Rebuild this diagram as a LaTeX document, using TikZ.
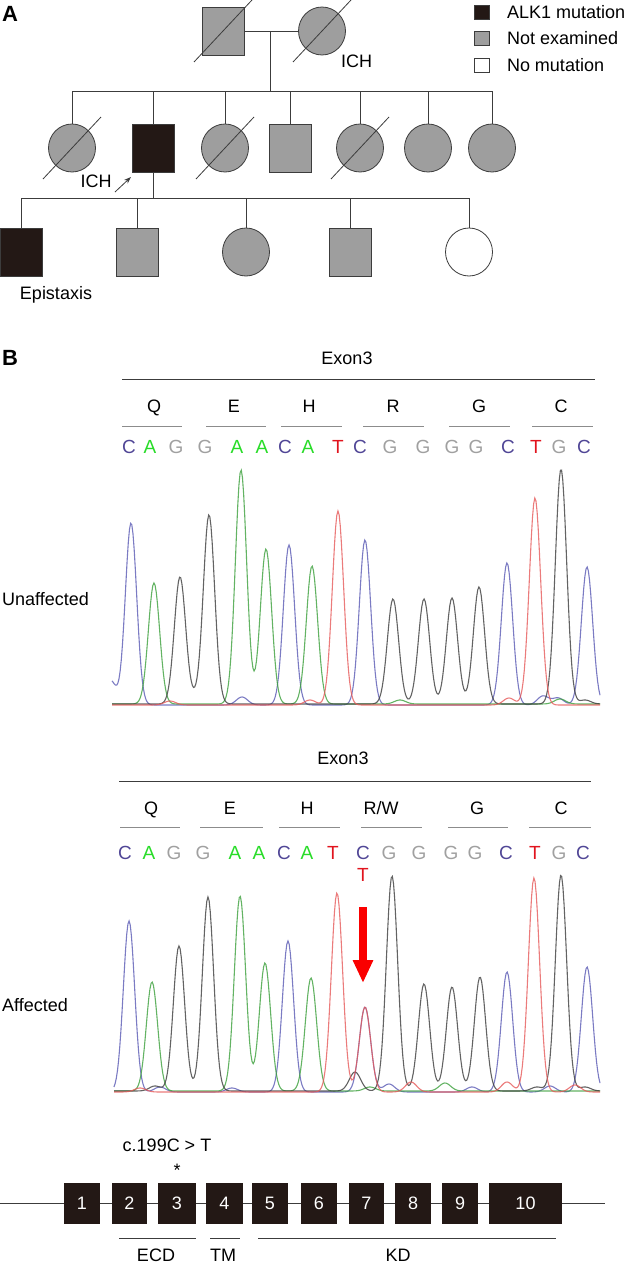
\documentclass[tikz,border=0pt]{standalone}
\usepackage{fontspec}
\setmainfont{Liberation Sans}
\usetikzlibrary{positioning,arrows.meta,shapes.geometric,calc}
\definecolor{mutclr}{RGB}{35,24,21}
\definecolor{unexclr}{RGB}{158,158,158}
\definecolor{lineclr}{RGB}{60,60,60}
\definecolor{aaclr}{RGB}{140,140,140}
\definecolor{baseC}{RGB}{80,70,150}
\definecolor{baseA}{RGB}{40,220,40}
\definecolor{baseG}{RGB}{160,160,160}
\definecolor{baseT}{RGB}{225,20,30}
\definecolor{trC}{RGB}{90,90,180}
\definecolor{trA}{RGB}{60,160,60}
\definecolor{trG}{RGB}{60,60,60}
\definecolor{trT}{RGB}{230,90,90}
\definecolor{arrclr}{RGB}{250,0,0}
\tikzset{
  txt/.style={font=\fontsize{18}{20}\selectfont,inner sep=0pt},
  male/.style={rectangle,draw=lineclr,line width=0.8pt,
               minimum width=42pt,minimum height=48pt,inner sep=0pt},
  female/.style={ellipse,draw=lineclr,line width=0.8pt,
                 minimum width=47pt,minimum height=48pt,inner sep=0pt},
  mut/.style={fill=mutclr},
  unex/.style={fill=unexclr},
  nomut/.style={fill=white},
  pedline/.style={draw=lineclr,line width=0.8pt},
  slash/.style={draw=lineclr,line width=0.8pt},
  keybox/.style={rectangle,draw=lineclr,line width=0.6pt,
                 minimum width=15pt,minimum height=14pt,inner sep=0pt},
  basetxt/.style={font=\fontsize{19}{20}\selectfont,inner sep=0pt,anchor=base},
  aatxt/.style={txt,anchor=base},
  aaline/.style={draw=aaclr,line width=0.8pt},
  exline/.style={draw=lineclr,line width=0.8pt},
  trc/.style={line width=1.1pt,opacity=0.8},
  exon/.style={rectangle,fill=mutclr,text=white,minimum height=41pt,
               inner sep=0pt,font=\fontsize{18}{20}\selectfont},
  panel/.style={font=\fontsize{22}{24}\selectfont\bfseries,inner sep=0pt},
  declare function={g(\t,\c)=exp(-min(((\t-\c)/8)^2,20));},
}
\begin{document}
\begin{tikzpicture}[x=1pt,y=-1pt]
\useasboundingbox (0,0) rectangle (630,1274);

% Panel A: pedigree
\node[panel] (pA) at (10,14) {A};

% generation I
\node[male,unex]   (I1) at (223,31) {};
\node[female,unex] (I2) at (322,31) {};
\node[txt,anchor=west] (ichI) at (341,61) {ICH};

% generation II
\node[female,unex] (II1) at (72,148) {};
\node[male,mut]    (II2) at (153,148) {};
\node[female,unex] (II3) at (225,148) {};
\node[male,unex]   (II4) at (290,148) {};
\node[female,unex] (II5) at (360,148) {};
\node[female,unex] (II6) at (428,148) {};
\node[female,unex] (II7) at (492,148) {};
\node[txt] (ichII) at (96,181) {ICH};

% generation III
\node[male,mut]     (III1) at (21,252) {};
\node[male,unex]    (III2) at (137,252) {};
\node[female,unex]  (III3) at (246,252) {};
\node[male,unex]    (III4) at (350,252) {};
\node[female,nomut] (III5) at (469,252) {};
\node[txt] (epi) at (56,295) {Epistaxis};

% family lines
\coordinate (matI) at (270,31);
\coordinate (sibI) at (270,91);
\coordinate (sibII) at (153,198);
\draw[pedline] (I1) -- (I2);
\draw[pedline] (matI) -- (sibI);
\draw[pedline] (II1.north |- sibI) -- (II7.north |- sibI);
\foreach \n in {II1,II2,II3,II4,II5,II6,II7}
  \draw[pedline] (\n.north |- sibI) -- (\n.north);
\draw[pedline] (II2.south) -- (sibII);
\draw[pedline] (III1.north |- sibII) -- (III5.north |- sibII);
\foreach \n in {III1,III2,III3,III4,III5}
  \draw[pedline] (\n.north |- sibII) -- (\n.north);

% deceased
\foreach \n in {I1,I2,II1,II3,II5}
  \draw[slash] ($(\n)+(-29,31)$) -- ($(\n)+(29,-31)$);

% proband
\coordinate (prbT) at (115,192);
\coordinate (prbH) at (131,177);
\draw[pedline,-{Stealth[length=7pt,width=5pt]}] (prbT) -- (prbH);

% legend
\node[keybox,mut]   (kMut)  at (482,12) {};
\node[keybox,unex]  (kUnex) at (482,38) {};
\node[keybox,nomut] (kNo)   at (482,65) {};
\node[txt,right=17pt of kMut]  (tMut)  {ALK1 mutation};
\node[txt,right=17pt of kUnex] (tUnex) {Not examined};
\node[txt,right=17pt of kNo]   (tNo)   {No mutation};

% Panel B: sequencing
\node[panel] (pB) at (10,358) {B};

% unaffected
\node[txt] (exU) at (347,358) {Exon3};
\draw[exline] (122,379) -- (595,379);
\foreach \x/\a [count=\i] in {154/Q,234/E,309/H,393/R,479/G,561/C}
  \node[aatxt] (uaa\i) at (\x,412) {\a};
\foreach \a/\b in {122/182,206/266,281/342,363/424,449/510,532/593}
  \draw[aaline] (\a,426) -- (\b,426);
\foreach \x/\b [count=\i] in {129/C,150/A,176/G,205/G,237/A,262/A,285/C,308/A,338/T,
                              360/C,390/G,423/G,452/G,476/G,508/C,536/T,559/G,584/C}
  \node[basetxt,text=base\b] (ub\i) at (\x,453) {\b};
\node[txt,anchor=west] (lblU) at (2,599) {Unaffected};

\draw[trc,trC] plot[domain=112:600,samples=420] (\x,{705-182*g(\x,131)-160*g(\x,289)
  -165*g(\x,365)-142*g(\x,507)-138*g(\x,587)-8*g(\x,242)-9*g(\x,543)-7*g(\x,558)-25*g(\x,110)});
\draw[trc,trA] plot[domain=112:600,samples=420] (\x,{704-121*g(\x,154)-234*g(\x,241)
  -155*g(\x,266)-138*g(\x,312)-4*g(\x,400)-5*g(\x,560)});
\draw[trc,trG] plot[domain=112:600,samples=420] (\x,{704-127*g(\x,180)-189*g(\x,209)
  -105*g(\x,393)-105*g(\x,424)-106*g(\x,452)-117*g(\x,479)-235*g(\x,561)-5*g(\x,195)-4*g(\x,585)});
\draw[trc,trT] plot[domain=112:600,samples=420] (\x,{705-194*g(\x,338)-207*g(\x,535)
  -5*g(\x,310)-7*g(\x,509)-4*g(\x,170)});

% affected
\node[txt] (exA) at (343,758) {Exon3};
\draw[exline] (119,781) -- (591,781);
\foreach \x/\a [count=\i] in {151/Q,230/E,307/H,381/{R/W},477/G,561/C}
  \node[aatxt] (aaa\i) at (\x,814) {\a};
\foreach \a/\b in {120/180,200/263,279/340,361/422,448/508,529/591}
  \draw[aaline] (\a,827) -- (\b,827);
\foreach \x/\b [count=\i] in {125/C,149/A,174/G,203/G,235/A,259/A,284/C,307/A,333/T,
                              363/C,389/G,419/G,451/G,475/G,506/C,535/T,559/G,583/C}
  \node[basetxt,text=base\b] (ab\i) at (\x,859) {\b};
\node[basetxt,text=baseT] (abT) at (363,881) {T};
\node[txt,anchor=west] (lblA) at (2,1005) {Affected};

\draw[trc,trC] plot[domain=114:600,samples=420] (\x,{1092-171*g(\x,129)-151*g(\x,288)
  -85*g(\x,365)-120*g(\x,507)-125*g(\x,587)-8*g(\x,389)-5*g(\x,472)-6*g(\x,550)-5*g(\x,160)-4*g(\x,232)});
\draw[trc,trA] plot[domain=114:600,samples=420] (\x,{1091-109*g(\x,152)-195*g(\x,240)
  -128*g(\x,265)-113*g(\x,311)-8*g(\x,445)-4*g(\x,370)});
\draw[trc,trG] plot[domain=114:600,samples=420] (\x,{1091-145*g(\x,179)-194*g(\x,208)
  -19*g(\x,355)-215*g(\x,392)-107*g(\x,424)-104*g(\x,452)-114*g(\x,480)-216*g(\x,561)
  -5*g(\x,155)-4*g(\x,537)-4*g(\x,585)});
\draw[trc,trT] plot[domain=114:600,samples=420] (\x,{1092-199*g(\x,337)-85*g(\x,365)
  -214*g(\x,534)-10*g(\x,411)-10*g(\x,507)-7*g(\x,575)-4*g(\x,140)});

% mutation arrow
\coordinate (mutTop) at (363,907);
\coordinate (mutTip) at (363,983);
\draw[arrclr,line width=8pt,-{Triangle[length=23pt,width=19pt]}] (mutTop) -- (mutTip);

% gene structure
\node[txt] (mutlbl) at (167,1145) {c.199C > T};
\node[txt] (star) at (177,1170) {*};
\coordinate (gL) at (0,1203);
\coordinate (gR) at (605,1203);
\draw[pedline] (gL) -- (gR);
\foreach \n/\a/\b in {1/64/100,2/112/147,3/158/196,4/206/243,5/252/288,
                      6/301/337,7/349/384,8/395/431,9/442/478,10/489/562}
  \node[exon,minimum width=\b-\a] (ex\n) at ({(\a+\b)/2},1203) {\n};

\draw[exline] (119,1238) -- (196,1238);
\draw[exline] (210,1238) -- (240,1238);
\draw[exline] (258,1238) -- (556,1238);
\node[txt] (ecd) at (156,1255) {ECD};
\node[txt] (tm)  at (223,1255) {TM};
\node[txt] (kd)  at (398,1255) {KD};

\end{tikzpicture}
\end{document}
